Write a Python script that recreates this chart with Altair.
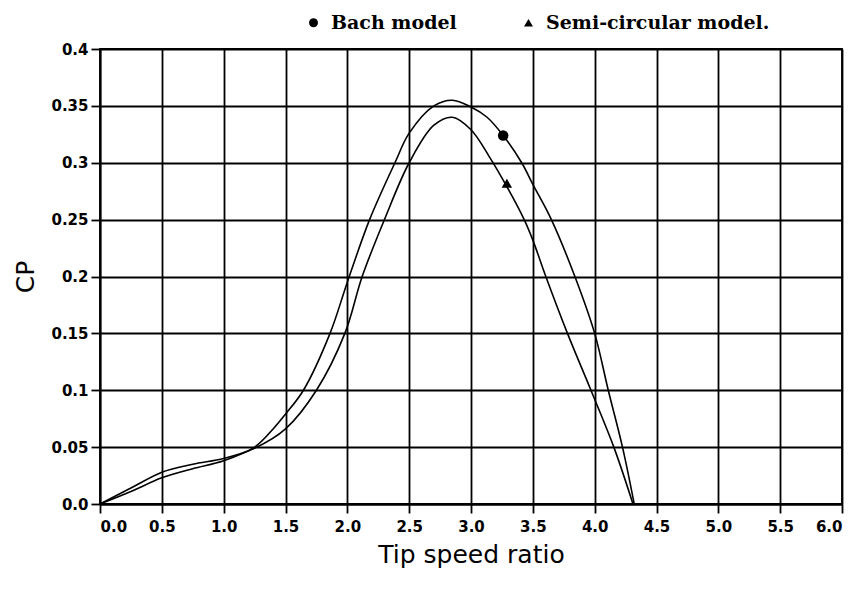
import altair as alt
import pandas as pd

# Bach model curve (higher peak)
bach_x = [0, 0.25, 0.5, 0.75, 1.0, 1.25, 1.4, 1.5, 1.645, 1.86, 2.0, 2.18, 2.385, 2.5, 2.7, 2.85, 3.0, 3.13, 3.26, 3.41, 3.5, 3.65, 3.84, 4.0, 4.11, 4.225, 4.32]
bach_y = [0, 0.011, 0.023, 0.031, 0.038, 0.05, 0.066, 0.079, 0.1, 0.15, 0.195, 0.25, 0.3, 0.326, 0.35, 0.355, 0.349, 0.34, 0.324, 0.3, 0.281, 0.25, 0.2, 0.15, 0.1, 0.05, 0]

# Semi-circular model curve (lower peak)
semi_x = [0, 0.25, 0.5, 0.75, 1.0, 1.25, 1.5, 1.75, 1.98, 2.12, 2.3, 2.5, 2.7, 2.85, 3.0, 3.15, 3.29, 3.43, 3.5, 3.605, 3.78, 3.97, 4.155, 4.31]
semi_y = [0, 0.014, 0.028, 0.035, 0.040, 0.049, 0.066, 0.1, 0.15, 0.2, 0.25, 0.3, 0.333, 0.34, 0.329, 0.305, 0.279, 0.25, 0.232, 0.2, 0.15, 0.1, 0.05, 0]

# marker points
series_names = ["Bach model", "Semi-circular model."]
marker_x = [3.26, 3.29]
marker_y = [0.324, 0.282]

x_ticks = [0, 0.5, 1.0, 1.5, 2.0, 2.5, 3.0, 3.5, 4.0, 4.5, 5.0, 5.5, 6.0]
y_ticks = [0, 0.05, 0.1, 0.15, 0.2, 0.25, 0.3, 0.35, 0.4]
y_tick_labels = ["0.0", "0.05", "0.1", "0.15", "0.2", "0.25", "0.3", "0.35", "0.4"]

lines = pd.concat([
    pd.DataFrame({"x": bach_x, "y": bach_y, "series": series_names[0], "order": range(len(bach_x))}),
    pd.DataFrame({"x": semi_x, "y": semi_y, "series": series_names[1], "order": range(len(semi_x))}),
])
markers = pd.DataFrame({"x": marker_x, "y": marker_y, "series": series_names})

label_js = "[" + ",".join("'%s'" % s for s in y_tick_labels) + "][round(datum.value/0.05)]"

common_axis = dict(grid=True, gridColor="black", gridWidth=1.8, gridOpacity=1,
                   domainColor="black", domainWidth=1.8,
                   tickColor="black", tickWidth=1.8, tickSize=9,
                   labelFont="DejaVu Sans", labelFontWeight="bold", labelFontSize=15,
                   labelColor="black",
                   titleFont="DejaVu Sans", titleFontSize=25, titleFontWeight="normal",
                   titleColor="black")

xenc = alt.X("x:Q", scale=alt.Scale(domain=[0, 6], nice=False),
             axis=alt.Axis(values=x_ticks, format=".1f", title="Tip speed ratio",
                           labelPadding=6, titlePadding=8, **common_axis))
yenc = alt.Y("y:Q", scale=alt.Scale(domain=[0, 0.4], nice=False),
             axis=alt.Axis(values=y_ticks, labelExpr=label_js, title="CP",
                           labelPadding=3, titlePadding=12, **common_axis))

line_layer = alt.Chart(lines).mark_line(color="black", strokeWidth=1.6, interpolate="catmull-rom").encode(
    x=xenc, y=yenc, detail="series:N", order="order:Q"
)

point_layer = alt.Chart(markers).mark_point(filled=True, color="black", opacity=1, size=110).encode(
    x="x:Q", y="y:Q",
    shape=alt.Shape("series:N",
                    scale=alt.Scale(domain=series_names, range=["circle", "triangle-up"]),
                    legend=alt.Legend(orient="none", legendX=204, legendY=-36, direction="horizontal",
                                      title=None, labelFont="DejaVu Serif", labelFontWeight="bold",
                                      labelFontSize=19, labelColor="black", labelLimit=500,
                                      symbolFillColor="black", symbolStrokeColor="black",
                                      symbolSize=80, columnPadding=62,
                                      symbolOffset=0, labelOffset=8))
)

chart = (line_layer + point_layer).properties(
    width=742, height=455, background="white"
).configure_view(stroke="black", strokeWidth=1.8)

chart.save("out.html", embed_options={"renderer": "svg", "actions": False})
